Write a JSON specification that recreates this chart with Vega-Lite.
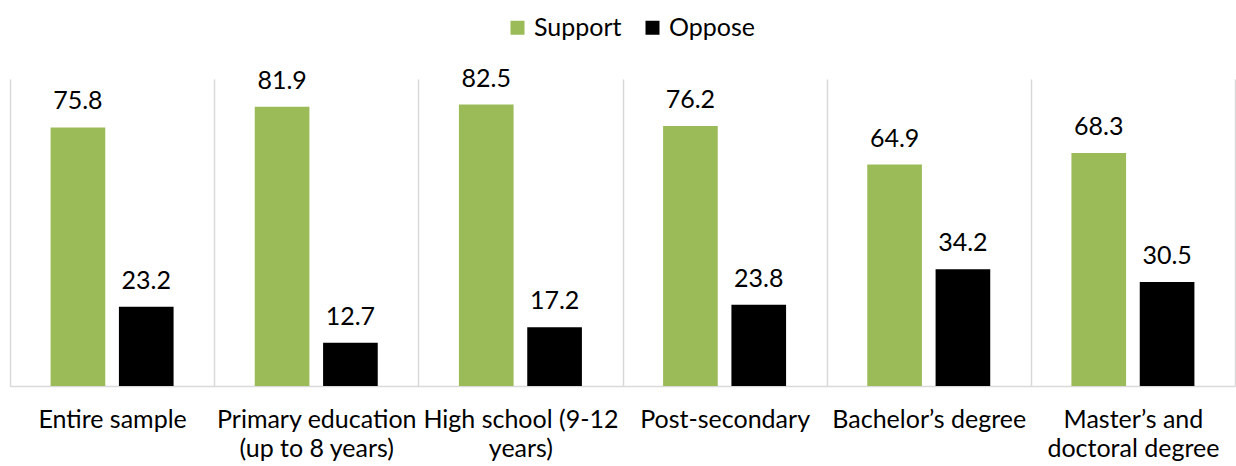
{
  "$schema": "https://vega.github.io/schema/vega-lite/v6.json",
  "width": 1225,
  "height": 307,
  "autosize": {"type": "none"},
  "padding": {"left": 10, "top": 79, "right": 1, "bottom": 80},
  "background": "white",
  "config": {
    "view": {"stroke": null},
    "font": "Lato",
    "text": {"font": "Lato"}
  },
  "data": {
    "values": [
      {"category": "Entire sample", "series": "Support", "value": 75.8},
      {"category": "Entire sample", "series": "Oppose", "value": 23.2},
      {"category": "Primary education (up to 8 years)", "series": "Support", "value": 81.9},
      {"category": "Primary education (up to 8 years)", "series": "Oppose", "value": 12.7},
      {"category": "High school (9-12 years)", "series": "Support", "value": 82.5},
      {"category": "High school (9-12 years)", "series": "Oppose", "value": 17.2},
      {"category": "Post-secondary", "series": "Support", "value": 76.2},
      {"category": "Post-secondary", "series": "Oppose", "value": 23.8},
      {"category": "Bachelor’s degree", "series": "Support", "value": 64.9},
      {"category": "Bachelor’s degree", "series": "Oppose", "value": 34.2},
      {"category": "Master’s and doctoral degree", "series": "Support", "value": 68.3},
      {"category": "Master’s and doctoral degree", "series": "Oppose", "value": 30.5}
    ]
  },
  "encoding": {
    "x": {
      "field": "category",
      "type": "nominal",
      "sort": null,
      "scale": {"paddingInner": 0, "paddingOuter": 0},
      "axis": {
        "title": null,
        "labelAngle": 0,
        "labelFont": "Lato",
        "labelFontSize": 25,
        "labelColor": "#000000",
        "labelPadding": 21,
        "labelLineHeight": 29,
        "labelLimit": 0,
        "ticks": false,
        "tickSize": 0,
        "tickBand": "extent",
        "grid": true,
        "gridColor": "#D9D9D9",
        "gridWidth": 1.5,
        "domainColor": "#D9D9D9",
        "domainWidth": 1.5,
        "labelExpr": "datum.value == 'Primary education (up to 8 years)' ? ['Primary education', '(up to 8 years)'] : datum.value == 'High school (9-12 years)' ? ['High school (9-12', 'years)'] : datum.value == 'Master’s and doctoral degree' ? ['Master’s and', 'doctoral degree'] : datum.value"
      }
    },
    "xOffset": {
      "field": "series",
      "type": "nominal",
      "sort": ["Support", "Oppose"],
      "scale": {"domain": ["Support", "Oppose"], "paddingInner": 0.2, "paddingOuter": 0.594}
    },
    "y": {
      "field": "value",
      "type": "quantitative",
      "scale": {"domain": [0, 90], "nice": false},
      "axis": null
    }
  },
  "layer": [
    {
      "mark": {"type": "bar"},
      "encoding": {
        "color": {
          "field": "series",
          "type": "nominal",
          "scale": {"domain": ["Support", "Oppose"], "range": ["#9BBB59", "#000000"]},
          "legend": {
            "title": null,
            "orient": "none",
            "direction": "horizontal",
            "legendX": 495,
            "legendY": -64,
            "symbolType": "square",
            "symbolSize": 196,
            "symbolStrokeWidth": 0,
            "labelFont": "Lato",
            "labelFontSize": 25,
            "labelColor": "#000000",
            "labelOffset": 4,
            "columnPadding": 18
          }
        }
      }
    },
    {
      "mark": {"type": "text", "baseline": "alphabetic", "dy": -18, "fontSize": 25, "font": "Lato", "color": "#000000"},
      "encoding": {
        "text": {"field": "value", "type": "quantitative", "format": ".1f"}
      }
    }
  ]
}
